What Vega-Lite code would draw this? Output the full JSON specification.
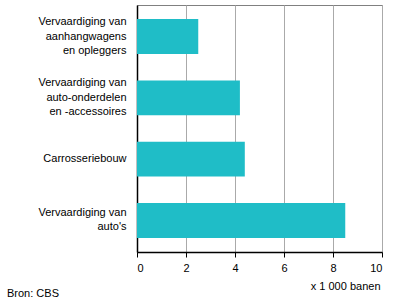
{
  "$schema": "https://vega.github.io/schema/vega-lite/v6.json",
  "autosize": "none",
  "width": 245,
  "height": 247,
  "padding": {"left": 137, "top": 5, "right": 14, "bottom": 56},
  "background": "white",
  "data": {
    "values": [
      {"categorie": "Vervaardiging van|aanhangwagens|en opleggers", "banen": 2.5},
      {"categorie": "Vervaardiging van|auto-onderdelen|en -accessoires", "banen": 4.2},
      {"categorie": "Carrosseriebouw", "banen": 4.4},
      {"categorie": "Vervaardiging van|auto's", "banen": 8.5}
    ]
  },
  "title": {
    "text": "Bron: CBS",
    "orient": "bottom",
    "anchor": "start",
    "frame": "group",
    "dx": -130,
    "offset": -3,
    "font": "Liberation Sans",
    "fontSize": 11,
    "fontWeight": "normal",
    "color": "black"
  },
  "config": {
    "view": {"stroke": "#808080", "strokeWidth": 1},
    "font": "Liberation Sans"
  },
  "mark": {"type": "bar", "color": "#1fbdc7"},
  "encoding": {
    "y": {
      "field": "categorie",
      "type": "nominal",
      "sort": null,
      "scale": {"paddingInner": 0.43, "paddingOuter": 0.23},
      "axis": {
        "title": null,
        "labelExpr": "split(datum.label, '|')",
        "labelLineHeight": 14.5,
        "labelOffset": {
          "condition": [
            {"test": "length(split(datum.value, '|')) == 3", "value": -14.5},
            {"test": "length(split(datum.value, '|')) == 2", "value": -7.5}
          ],
          "value": 0
        },
        "labelFont": "Liberation Sans",
        "labelFontSize": 11,
        "labelColor": "black",
        "labelPadding": 11,
        "labelLimit": 200,
        "ticks": false,
        "domainColor": "black",
        "domainWidth": 1.5,
        "grid": false
      }
    },
    "x": {
      "field": "banen",
      "type": "quantitative",
      "scale": {"domain": [0, 10], "nice": false},
      "axis": {
        "values": [0, 2, 4, 6, 8, 10],
        "title": "x 1 000 banen",
        "titleAnchor": "end",
        "titleAlign": "right",
        "titleX": 243,
        "titleFont": "Liberation Sans",
        "titleFontSize": 11,
        "titleFontWeight": "normal",
        "titleColor": "black",
        "titlePadding": 7,
        "labelFont": "Liberation Sans",
        "labelFontSize": 11,
        "labelColor": "black",
        "labelPadding": 5,
        "domainColor": "black",
        "domainWidth": 1.5,
        "tickColor": "black",
        "tickSize": 5,
        "grid": true,
        "gridColor": "#aaaaaa",
        "gridWidth": 1
      }
    }
  }
}
